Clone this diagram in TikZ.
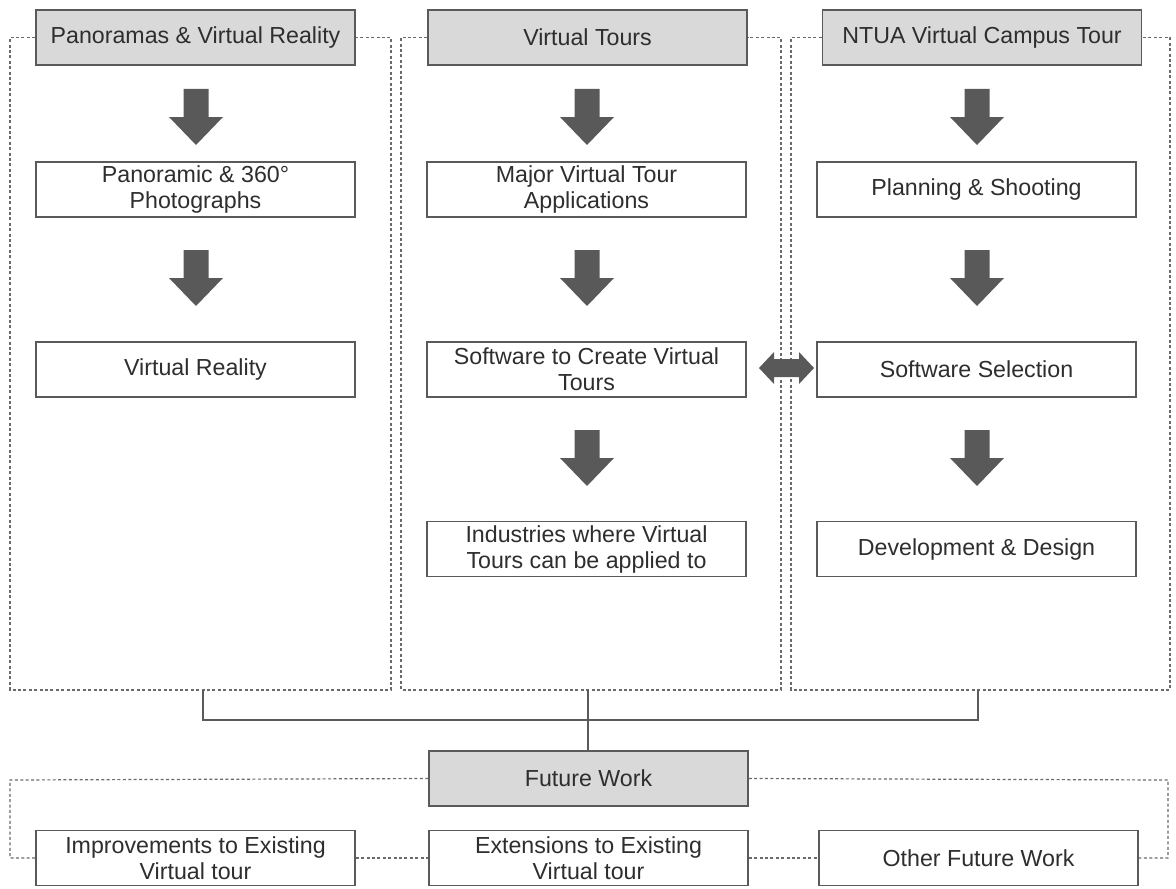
\documentclass[tikz,border=0pt]{standalone}
\usepackage{fontspec}
\setmainfont{Liberation Sans}
\definecolor{boxc}{HTML}{5A5A5A}
\definecolor{dashc}{HTML}{6A6A6A}
\definecolor{headc}{HTML}{D9D9D9}
\definecolor{textc}{HTML}{2E2E2E}
\definecolor{arrc}{HTML}{595959}
\begin{document}
\begin{tikzpicture}[x=0.5pt,y=-0.5pt,
  box/.style={draw=boxc, line width=0.75pt, minimum width=159.5pt, minimum height=27.5pt, inner sep=0pt, align=center, text=textc, font=\fontsize{11.6}{13}\selectfont, fill=white},
  head/.style={box, fill=headc},
  dsh/.style={draw=dashc, line width=0.6pt, dash pattern=on 1.5pt off 1.2pt},
  conn/.style={draw=boxc, line width=0.8pt},
  blk/.style={fill=arrc, draw=none}]
\useasboundingbox (0,0) rectangle (1176,888);
% headers
\node[head] (h1) at (195.5,37.5) {Panoramas \& Virtual Reality};
\node[head] (h2) at (587.5,37.5) {Virtual Tours};
\node[head] (h3) at (982,37.5) {NTUA Virtual Campus Tour};
% column 1
\node[box] (a1) at (195.5,189.5) {Panoramic \& 360°\\Photographs};
\node[box] (a2) at (195.5,369.5) {Virtual Reality};
% column 2
\node[box] (b1) at (586.5,189.5) {Major Virtual Tour\\Applications};
\node[box] (b2) at (586.5,369.5) {Software to Create Virtual\\Tours};
\node[box] (b3) at (586.5,549) {Industries where Virtual\\Tours can be applied to};
% column 3
\node[box] (c1) at (976.5,189.5) {Planning \& Shooting};
\node[box] (c2) at (976.5,369.5) {Software Selection};
\node[box] (c3) at (976.5,549) {Development \& Design};
% bottom
\node[head] (fw) at (588.5,778.5) {Future Work};
\node[box] (d1) at (195.5,858) {Improvements to Existing\\Virtual tour};
\node[box] (d2) at (588.5,858) {Extensions to Existing\\Virtual tour};
\node[box] (d3) at (978.5,858) {Other Future Work};
% dashed group frames
\coordinate (l1) at (10,690); \coordinate (r1) at (391,690);
\coordinate (l2) at (401,690); \coordinate (r2) at (781,690);
\coordinate (l3) at (791,690); \coordinate (r3) at (1170,690);
\draw[dsh] (h1.west) -| (l1) -- (r1) |- (h1.east);
\draw[dsh] (h2.west) -| (l2) -- (r2) |- (h2.east);
\draw[dsh] (h3.west) -| (l3) -- (r3) |- (h3.east);
% dashed future work
\coordinate (fl) at (10,780); \coordinate (fr) at (1168,780);
\draw[dsh] (fw.west) -- (fl) |- (d1.west);
\draw[dsh] (fw.east) -- (fr) |- (d3.east);
\draw[dsh] (d1.east) -- (d2.west);
\draw[dsh] (d2.east) -- (d3.west);
% solid connectors
\coordinate (s1) at (203,690); \coordinate (s2) at (588,690); \coordinate (s3) at (978,690);
\coordinate (j1) at (203,720); \coordinate (j3) at (978,720);
\draw[conn] (s1) -- (j1) -- (j3) -- (s3);
\draw[conn] (s2) -- (s2 |- fw.north);
% block arrows
\foreach \cx/\ty in {196/89,196/250,587/89,587/250,587/430,977/89,977/250,977/430}{
  \fill[blk] (\cx-12.5,\ty) -- (\cx+12.5,\ty) -- (\cx+12.5,\ty+28) -- (\cx+27,\ty+28)
    -- (\cx,\ty+56) -- (\cx-27,\ty+28) -- (\cx-12.5,\ty+28) -- cycle;
}
% double arrow
\fill[blk] (759,368) -- (774,352) -- (774,359) -- (799,359) -- (799,352) -- (814,368)
  -- (799,384) -- (799,377) -- (774,377) -- (774,384) -- cycle;
\end{tikzpicture}
\end{document}
